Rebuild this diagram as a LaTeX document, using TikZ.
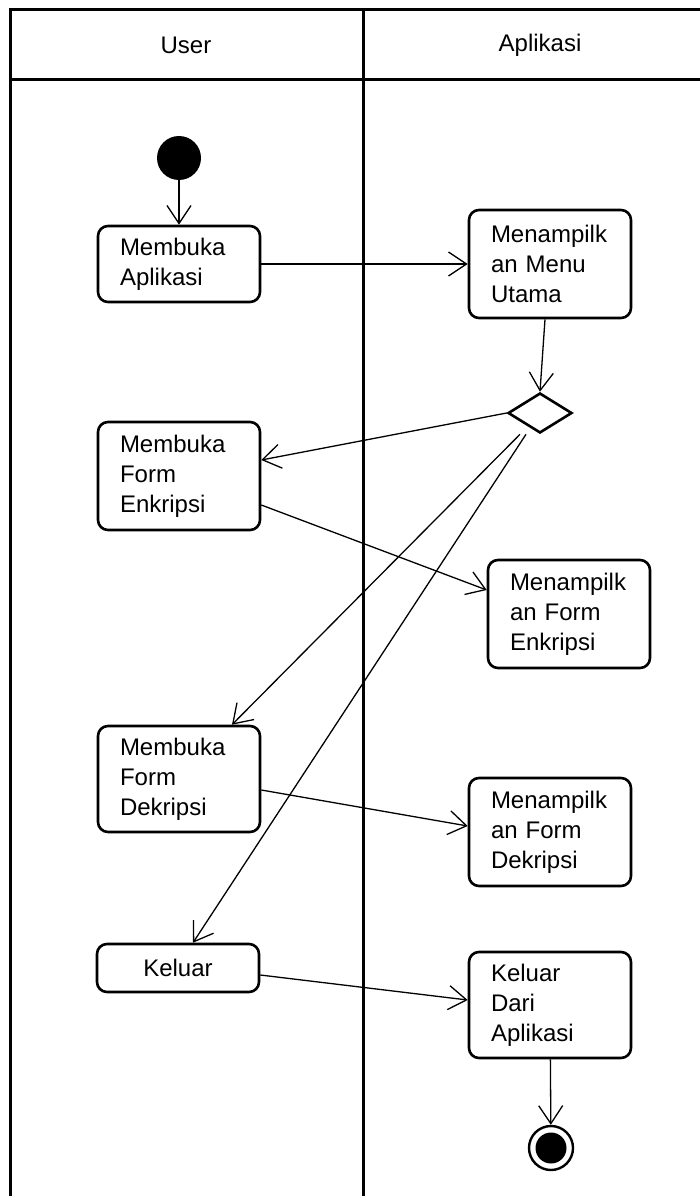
\documentclass[tikz,border=0pt]{standalone}
\usepackage{fontspec}
\setmainfont{Liberation Sans}
\usetikzlibrary{arrows.meta,shapes.geometric}

\begin{document}
\begin{tikzpicture}[x=1pt,y=-1pt]
\tikzstyle{every node}+=[font=\fontsize{24}{30}\selectfont]
\tikzstyle{act}=[draw,line width=2.6pt,rounded corners=10pt,minimum width=162pt,text width=118pt,inner xsep=22pt,inner ysep=0pt,align=left]
\tikzstyle{flow}=[line width=1.3pt,-{Straight Barb[length=18pt,width=24pt,line width=1.3pt]}]
\tikzstyle{lane}=[line width=3pt]
\useasboundingbox (0,0) rectangle (700,1196);
\clip (0,0) rectangle (700,1196);
% swimlanes
\draw [lane] (10,1210) -- (10,10) -- (720,10);
\draw [lane] (10,80) -- (720,80);
\draw [lane] (363,10) -- (363,1210);
\node (user) at (186,45) {User};
\node (apl) at (540,45) {Aplikasi};
% user lane
\node [circle,fill=black,minimum size=44pt,inner sep=0pt] (start) at (179,158) {};
\node [act,minimum height=76pt] (ma) at (179,264) {Membuka\\Aplikasi};
\node [act,minimum height=108pt] (mfe) at (179,476) {Membuka\\Form\\Enkripsi};
\node [act,minimum height=106pt] (mfd) at (179,779) {Membuka\\Form\\Dekripsi};
\node [act,minimum height=48pt,align=center] (kel) at (178,968) {Keluar};
% aplikasi lane
\node [act,minimum height=108pt] (mu) at (550,264) {Menampilk\\an Menu\\Utama};
\node [diamond,draw,line width=2.6pt,minimum width=64pt,minimum height=40pt,inner sep=0pt] (dia) at (540,413) {};
\node [act,minimum height=108pt] (mfen) at (569,614) {Menampilk\\an Form\\Enkripsi};
\node [act,minimum height=108pt] (mfdk) at (550,832) {Menampilk\\an Form\\Dekripsi};
\node [act,minimum height=106pt] (kda) at (550,1005) {Keluar\\Dari\\Aplikasi};
\node [circle,draw,line width=2.4pt,minimum size=44pt,inner sep=0pt] (end) at (551,1148) {};
\fill (end.center) circle (15.5);
% transitions
\draw [flow] (start) -- (ma);
\draw [flow] (ma) -- (mu);
\draw [flow] (mu.south -| 545,0) -- (dia.north);
\draw [flow] (dia.west) -- (mfe.east |- 0,460);
\draw [flow] (mfe.east |- 0,505) -- (mfen.west |- 0,590);
\draw [flow] (dia.south -| 520,0) -- (mfd.north -| 232,0);
\draw [flow] (dia.south -| 526,0) -- (kel.north -| 193,0);
\draw [flow] (mfd.east |- 0,790) -- (mfdk.west |- 0,826);
\draw [flow] (kel.east |- 0,975) -- (kda.west |- 0,1000);
\draw [flow] (kda) -- (end);
\end{tikzpicture}
\end{document}
